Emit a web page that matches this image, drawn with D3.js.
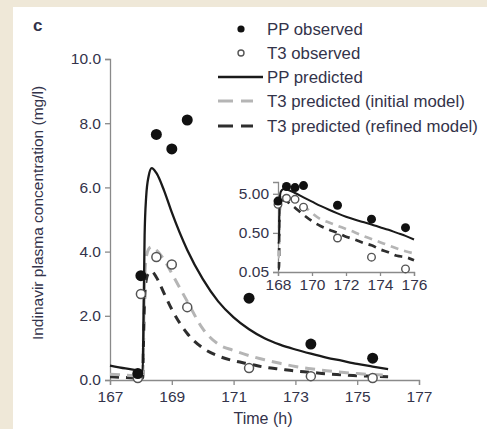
<!DOCTYPE html>
<html>
<head>
<meta charset="utf-8">
<title>Indinavir</title>
<script src="https://cdn.jsdelivr.net/npm/d3@7"></script>
<style>
  body { margin:0; background:#efe8d8; }
  svg { display:block; }
  .axis path, .axis line { fill:none; stroke:#8a8a8a; stroke-width:1.3; }
  .axis text { font-family:"Liberation Sans", Arial, sans-serif; font-size:15.5px; fill:#33334a; }
  .lbl { font-family:"Liberation Sans", Arial, sans-serif; fill:#33334a; }
</style>
</head>
<body>
<script>
// observed data
var obsTime = [167.9, 168.0, 168.5, 169.0, 169.5, 171.5, 173.5, 175.5];
var ppObs   = [0.2, 3.25, 7.65, 7.2, 8.1, 2.55, 1.12, 0.68];
var t3Obs   = [0.06, 2.68, 3.83, 3.6, 2.27, 0.37, 0.12, 0.06];

// predicted curves
var predTime = [167.0, 167.5, 168.0, 168.06, 168.08, 168.12, 168.17, 168.25, 168.35, 168.5, 168.75, 169.0, 169.5, 170.0, 170.5, 171.0, 171.5, 172.0, 172.5, 173.0, 173.5, 174.0, 174.5, 175.0, 175.5, 176.0];
var ppPred   = [0.45, 0.36, 0.29, 0.28, 1.5, 4.5, 5.7, 6.35, 6.6, 6.45, 5.9, 5.22, 4.05, 3.15, 2.45, 1.95, 1.58, 1.3, 1.1, 0.95, 0.82, 0.7, 0.6, 0.5, 0.42, 0.34];
var t3Init   = [0.18, 0.15, 0.12, 0.12, 1.2, 3.0, 3.8, 4.08, 4.15, 4.05, 3.75, 3.32, 2.45, 1.6, 1.12, 0.92, 0.76, 0.63, 0.52, 0.42, 0.35, 0.29, 0.24, 0.2, 0.17, 0.15];
var t3Ref    = [0.1, 0.08, 0.06, 0.06, 1.0, 2.5, 3.1, 3.33, 3.38, 3.2, 2.7, 2.2, 1.45, 1.0, 0.75, 0.6, 0.5, 0.4, 0.34, 0.28, 0.24, 0.19, 0.16, 0.13, 0.12, 0.1];

var mainXTicks = [167, 169, 171, 173, 175, 177];
var mainYTicks = [0, 2, 4, 6, 8, 10];
var insetXTicks = [168, 170, 172, 174, 176];
var insetYTicks = [0.05, 0.5, 5];

var legendLabels = ["PP observed", "T3 observed", "PP predicted", "T3 predicted (initial model)", "T3 predicted (refined model)"];

var W = 487, H = 429;
var svg = d3.select("body").append("svg").attr("width", W).attr("height", H);
svg.append("rect").attr("x", 13).attr("y", 7).attr("width", W - 13).attr("height", H - 7).attr("fill", "#fff");

var x = d3.scaleLinear().domain([167, 177]).range([110, 419]);
var y = d3.scaleLinear().domain([0, 10]).range([380, 59]);

var styles = [
  {vals: ppPred, color: "#1a1a1a", dash: null, w: 2.3},
  {vals: t3Init, color: "#b5b5b5", dash: "10,7", w: 3},
  {vals: t3Ref,  color: "#2e2e2e", dash: "9,7", w: 3}
];

// main axes
svg.append("g").attr("class", "axis").attr("transform", "translate(110,0)")
  .call(d3.axisLeft(y).tickValues(mainYTicks).tickFormat(d3.format(".1f")).tickSizeOuter(0).tickSize(5).tickPadding(4));
svg.append("g").attr("class", "axis").attr("transform", "translate(0,380)")
  .call(d3.axisBottom(x).tickValues(mainXTicks).tickFormat(d3.format("d")).tickSizeOuter(0).tickSize(5).tickPadding(6));

var mainLine = d3.line().x(function(d){ return x(d[0]); }).y(function(d){ return y(d[1]); }).curve(d3.curveMonotoneX);
styles.slice().reverse().forEach(function(s){
  svg.append("path").datum(d3.zip(predTime, s.vals))
    .attr("d", mainLine).attr("fill", "none").attr("stroke", s.color)
    .attr("stroke-width", s.w).attr("stroke-dasharray", s.dash);
});

svg.selectAll(".t3m").data(d3.zip(obsTime, t3Obs)).enter().append("circle")
  .attr("cx", function(d){ return x(d[0]); }).attr("cy", function(d){ return y(d[1]); })
  .attr("r", 4.5).attr("fill", "#fff").attr("stroke", "#555").attr("stroke-width", 1.5);
svg.selectAll(".ppm").data(d3.zip(obsTime, ppObs)).enter().append("circle")
  .attr("cx", function(d){ return x(d[0]); }).attr("cy", function(d){ return y(d[1]); })
  .attr("r", 5.5).attr("fill", "#111");

// inset
var xi = d3.scaleLinear().domain([168, 176]).range([278, 414]);
var yi = d3.scaleLog().domain([0.05, 10]).range([272, 182]);

svg.append("defs").append("clipPath").attr("id", "ic").append("rect")
  .attr("x", 277).attr("y", 178).attr("width", 140).attr("height", 95);

svg.append("g").attr("class", "axis").attr("transform", "translate(278,0)")
  .call(d3.axisLeft(yi).tickValues(insetYTicks).tickFormat(d3.format(".2f")).tickSizeOuter(0).tickSize(5).tickPadding(4));
svg.append("g").attr("class", "axis").attr("transform", "translate(0,272)")
  .call(d3.axisBottom(xi).tickValues(insetXTicks).tickFormat(d3.format("d")).tickSizeOuter(0).tickSize(4).tickPadding(3));

var ig = svg.append("g").attr("clip-path", "url(#ic)");
var insetLine = d3.line().x(function(d){ return xi(d[0]); }).y(function(d){ return yi(Math.max(d[1], 0.04)); }).curve(d3.curveMonotoneX);
styles.slice().reverse().forEach(function(s){
  ig.append("path").datum(d3.zip(predTime, s.vals).filter(function(d){ return d[0] >= 167.9; }))
    .attr("d", insetLine).attr("fill", "none").attr("stroke", s.color)
    .attr("stroke-width", s.w * 0.9).attr("stroke-dasharray", s.dash ? "8,6" : null);
});
var inObs = function(d){ return d[0] >= 168; };
svg.selectAll(".t3i").data(d3.zip(obsTime, t3Obs).filter(inObs)).enter().append("circle")
  .attr("cx", function(d){ return xi(d[0]); }).attr("cy", function(d){ return yi(d[1]); })
  .attr("r", 3.8).attr("fill", "#fff").attr("stroke", "#555").attr("stroke-width", 1.4);
svg.selectAll(".ppi").data(d3.zip(obsTime, ppObs).filter(inObs)).enter().append("circle")
  .attr("cx", function(d){ return xi(d[0]); }).attr("cy", function(d){ return yi(d[1]); })
  .attr("r", 4.5).attr("fill", "#111");

// legend
var ly = [29, 53, 77, 101, 126];
svg.append("circle").attr("cx", 241).attr("cy", ly[0]).attr("r", 3.6).attr("fill", "#111");
svg.append("circle").attr("cx", 241).attr("cy", ly[1]).attr("r", 3).attr("fill", "#fff").attr("stroke", "#555").attr("stroke-width", 1.4);
svg.append("line").attr("x1", 218).attr("x2", 263).attr("y1", ly[2]).attr("y2", ly[2]).attr("stroke", styles[0].color).attr("stroke-width", 2.5);
svg.append("line").attr("x1", 218).attr("x2", 253).attr("y1", ly[3]).attr("y2", ly[3]).attr("stroke", styles[1].color).attr("stroke-width", 3).attr("stroke-dasharray", "15,8");
svg.append("line").attr("x1", 218).attr("x2", 253).attr("y1", ly[4]).attr("y2", ly[4]).attr("stroke", styles[2].color).attr("stroke-width", 3).attr("stroke-dasharray", "15,8");
svg.selectAll(".lt").data(legendLabels).enter().append("text").attr("class", "lbl")
  .attr("x", 267).attr("y", function(d, i){ return ly[i] + 6; })
  .attr("font-size", "16.8px").text(function(d){ return d; });

// titles
svg.append("text").attr("class", "lbl").attr("x", 33).attr("y", 31)
  .attr("font-size", "17px").attr("font-weight", "bold").attr("fill", "#222").text("c");
svg.append("text").attr("class", "lbl").attr("transform", "translate(43,213) rotate(-90)")
  .attr("text-anchor", "middle").attr("font-size", "15.5px").text("Indinavir plasma concentration (mg/l)");
svg.append("text").attr("class", "lbl").attr("x", 263).attr("y", 424)
  .attr("text-anchor", "middle").attr("font-size", "16px").text("Time (h)");
</script>
</body>
</html>
